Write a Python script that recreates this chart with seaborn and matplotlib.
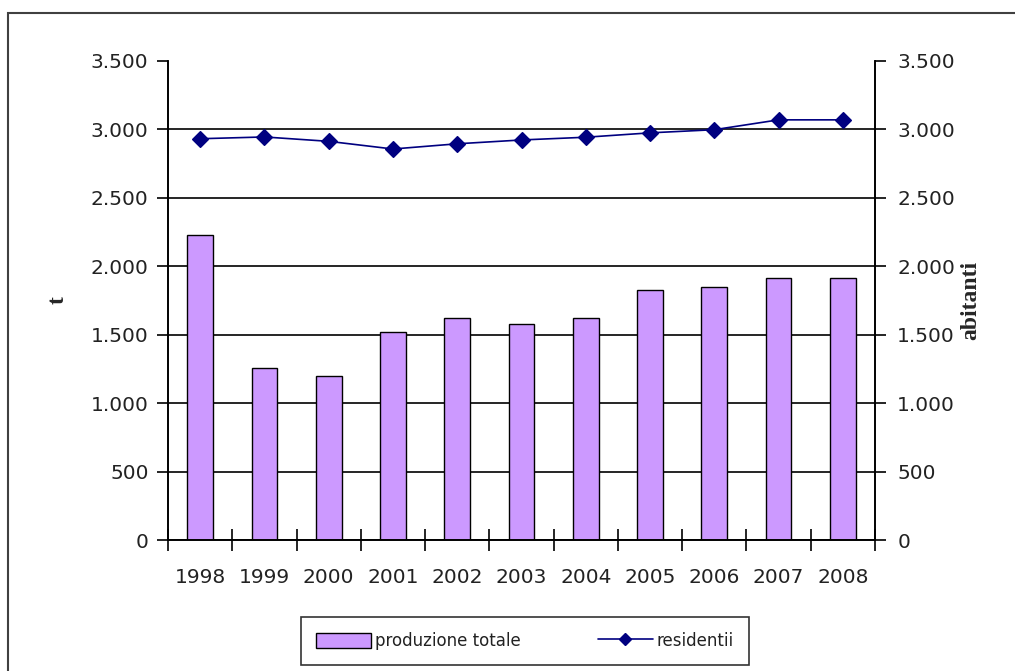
import matplotlib
matplotlib.use("Agg")
import matplotlib.pyplot as plt
import matplotlib.ticker as mticker
from matplotlib.patches import Rectangle, Patch
from matplotlib.lines import Line2D
import seaborn as sns

years = ['1998', '1999', '2000', '2001', '2002', '2003', '2004', '2005', '2006', '2007', '2008']
produzione = [2225, 1258, 1198, 1520, 1622, 1580, 1622, 1830, 1845, 1915, 1915]
residenti = [2932, 2945, 2913, 2857, 2895, 2923, 2943, 2975, 2998, 3070, 3070]

sns.set_style("white")
plt.rcParams['font.family'] = ['DejaVu Sans']

fig = plt.figure(figsize=(10.15, 6.71), dpi=100)
ax = fig.add_axes([168 / 1015, 1 - 540 / 671, (875 - 168) / 1015, (540 - 61) / 671])

# outer frame (cut off at right and bottom like the original)
fig.patches.append(Rectangle((8 / 1015, -0.1), 1.2, 1 - 13 / 671 + 0.1,
                             transform=fig.transFigure, fill=False,
                             edgecolor='#404040', linewidth=1.5))

sns.barplot(x=years, y=produzione, ax=ax, color='#CC99FF', edgecolor='black',
            linewidth=1, width=0.4, saturation=1)
ax.set_xlim(-0.5, len(years) - 0.5)
ax.set_ylim(0, 3500)

ax2 = ax.twinx()
sns.pointplot(x=years, y=residenti, ax=ax2, color='#000080', markers='D',
              markersize=8, linewidth=1.2)
ax2.set_xlim(-0.5, len(years) - 0.5)
ax2.set_ylim(0, 3500)

fmt = mticker.FuncFormatter(lambda v, p: f"{int(v):,}".replace(',', '.'))
for a in (ax, ax2):
    a.yaxis.set_major_locator(mticker.MultipleLocator(500))
    a.yaxis.set_major_formatter(fmt)
    a.set_xlabel('')
    for s in a.spines.values():
        s.set_color('black')
        s.set_linewidth(1.2)
    a.spines['top'].set_visible(False)

ax.yaxis.grid(True, color='black', linewidth=1.2)
ax.set_axisbelow(True)
fig.canvas.draw()
for t in ax.yaxis.get_major_ticks():
    if t.get_loc() >= 3500:
        t.gridline.set_visible(False)

ax.tick_params(axis='y', left=True, direction='out', length=8, width=1.2,
               labelsize=14.5, pad=6, colors='#222222')
ax2.tick_params(axis='y', right=True, direction='out', length=8, width=1.2,
                labelsize=14.5, pad=8, colors='#222222')
for a in (ax, ax2):
    a.tick_params(axis='y', color='black')

ax.tick_params(axis='x', which='major', length=0, labelsize=14.5, pad=20, colors='#222222')
ax.xaxis.set_minor_locator(mticker.FixedLocator([i - 0.5 for i in range(len(years) + 1)]))
ax.tick_params(axis='x', which='minor', bottom=True, direction='inout', length=16, width=1.2,
               color='black')
ax2.tick_params(axis='x', bottom=False, labelbottom=False)

ax.set_ylabel('t', family='Liberation Serif', fontweight='bold', fontsize=17)
ax.yaxis.set_label_coords(-0.14, 0.5)
ax2.set_ylabel('abitanti', family='Liberation Serif', fontweight='bold', fontsize=17)
ax2.yaxis.set_label_coords(1.12, 0.5)

handles = [Patch(facecolor='#CC99FF', edgecolor='black', linewidth=1),
           Line2D([], [], color='#000080', marker='D', markersize=6, linewidth=1.2)]
leg = fig.legend(handles, ['produzione totale', 'residentii'], ncol=2,
                 loc='center', bbox_to_anchor=(525 / 1015, 1 - 641 / 671),
                 frameon=True, fancybox=False, edgecolor='black', fontsize=12,
                 handlelength=3.3, handleheight=1.0, handletextpad=0.25,
                 columnspacing=4.6, borderpad=0.9, borderaxespad=0)
leg.get_frame().set_linewidth(1.2)
for txt in leg.get_texts():
    txt.set_color('#222222')

fig.savefig('out.png', dpi=100)
